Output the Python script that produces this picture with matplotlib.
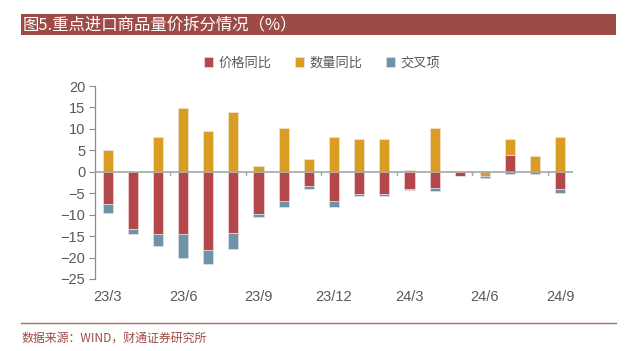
import matplotlib
matplotlib.use("Agg")
import matplotlib.pyplot as plt
from matplotlib.patches import Rectangle
import numpy as np

plt.rcParams['font.family'] = ['Noto Sans CJK SC', 'DejaVu Sans']

months = ["23/3", "23/4", "23/5", "23/6", "23/7", "23/8", "23/9", "23/10", "23/11", "23/12",
          "24/1", "24/2", "24/3", "24/4", "24/5", "24/6", "24/7", "24/8", "24/9"]
price = [-7.6, -13.4, -14.4, -14.6, -18.2, -14.3, -9.9, -6.9, -3.2, -6.9,
         -5.1, -5.1, -4.1, -3.7, -0.9, 0.1, 3.9, 0.0, -4.1]
quantity = [5.1, 0.0, 8.2, 14.8, 9.6, 14.0, 1.3, 10.3, 2.9, 8.2,
            7.7, 7.7, 0.3, 10.3, 0.0, -1.0, 3.7, 3.7, 8.1]
cross = [-1.9, -1.1, -3.0, -5.4, -3.4, -3.8, -0.6, -1.3, -0.9, -1.3,
         -0.6, -0.6, -0.2, -0.8, -0.1, -0.5, -0.6, -0.5, -0.8]
series_names = ["价格同比", "数量同比", "交叉项"]
tick_labels = ["23/3", "23/6", "23/9", "23/12", "24/3", "24/6", "24/9"]

colors = ["#B4474A", "#DA9D24", "#6C93A8"]
title_color = "#9C4B47"
text_gray = "#595959"
latin = ['Liberation Sans', 'Noto Sans CJK SC']

fig = plt.figure(figsize=(6.4, 3.51), dpi=100)
W, H = 640, 351

# title bar
fig.patches.append(Rectangle((21 / W, 1 - 35 / H), (616 - 21) / W, 21 / H,
                             transform=fig.transFigure, facecolor=title_color,
                             edgecolor='none', zorder=0))
fig.text(23 / W, 1 - 24.5 / H, "图5.重点进口商品量价拆分情况（%）", color="white",
         fontsize=11.8, va="center", ha="left")

# footer line and source
fig.add_artist(plt.Line2D([21 / W, 616 / W], [1 - 323 / H, 1 - 323 / H],
                          transform=fig.transFigure, color="#B56A66", lw=1.0))
fig.text(21 / W, 1 - 338 / H, "数据来源：WIND，财通证券研究所", color="#9C4B47",
         fontsize=8.6, va="center", ha="left")

ax = fig.add_axes([95 / W, 1 - 279 / H, (573 - 95) / W, (279 - 86) / H])

x = np.arange(len(months))
pos_base = np.zeros(len(months))
neg_base = np.zeros(len(months))
handles = []
for vals, c, name in zip([price, quantity, cross], colors, series_names):
    v = np.array(vals, dtype=float)
    bottoms = np.where(v >= 0, pos_base, neg_base)
    h = ax.bar(x, v, width=0.4, bottom=bottoms, color=c, edgecolor="#F4E8E8",
               linewidth=0.4, label=name, zorder=2)
    handles.append(h)
    pos_base = pos_base + np.where(v >= 0, v, 0)
    neg_base = neg_base + np.where(v < 0, v, 0)

ax.set_xlim(-0.5, len(months) - 0.5)
ax.set_ylim(-25, 20)
ax.set_yticks(np.arange(-25, 21, 5))
ax.tick_params(axis='y', colors="#8C8C8C", labelcolor=text_gray, labelsize=10.5,
               length=4, width=0.8, direction='out', pad=3)

for s in ["top", "right", "bottom"]:
    ax.spines[s].set_visible(False)
ax.spines["left"].set_color("#8C8C8C")
ax.spines["left"].set_linewidth(0.9)

# zero line
ax.axhline(0, color="#A6A6A6", lw=1.2, zorder=3)
# boundary ticks on zero line every 3 categories
for b in np.arange(2.5, len(months) - 0.5, 3):
    ax.plot([b, b], [0, -0.8], color="#A6A6A6", lw=1.0, zorder=3)

label_pos = [months.index(t) for t in tick_labels]
ax.set_xticks(label_pos)
ax.set_xticklabels(tick_labels)
ax.tick_params(axis='x', length=0, labelsize=10.5, labelcolor=text_gray, pad=8)
for lab in ax.get_xticklabels() + ax.get_yticklabels():
    lab.set_fontfamily(latin)

fig.legend(handles=handles, labels=series_names, loc="center",
           bbox_to_anchor=(322 / W, 1 - 63 / H), ncol=3, frameon=False,
           fontsize=9.5, handlelength=0.7, handleheight=0.7, handletextpad=0.4,
           columnspacing=1.8, labelcolor=text_gray)

fig.savefig("out.png", dpi=100)
